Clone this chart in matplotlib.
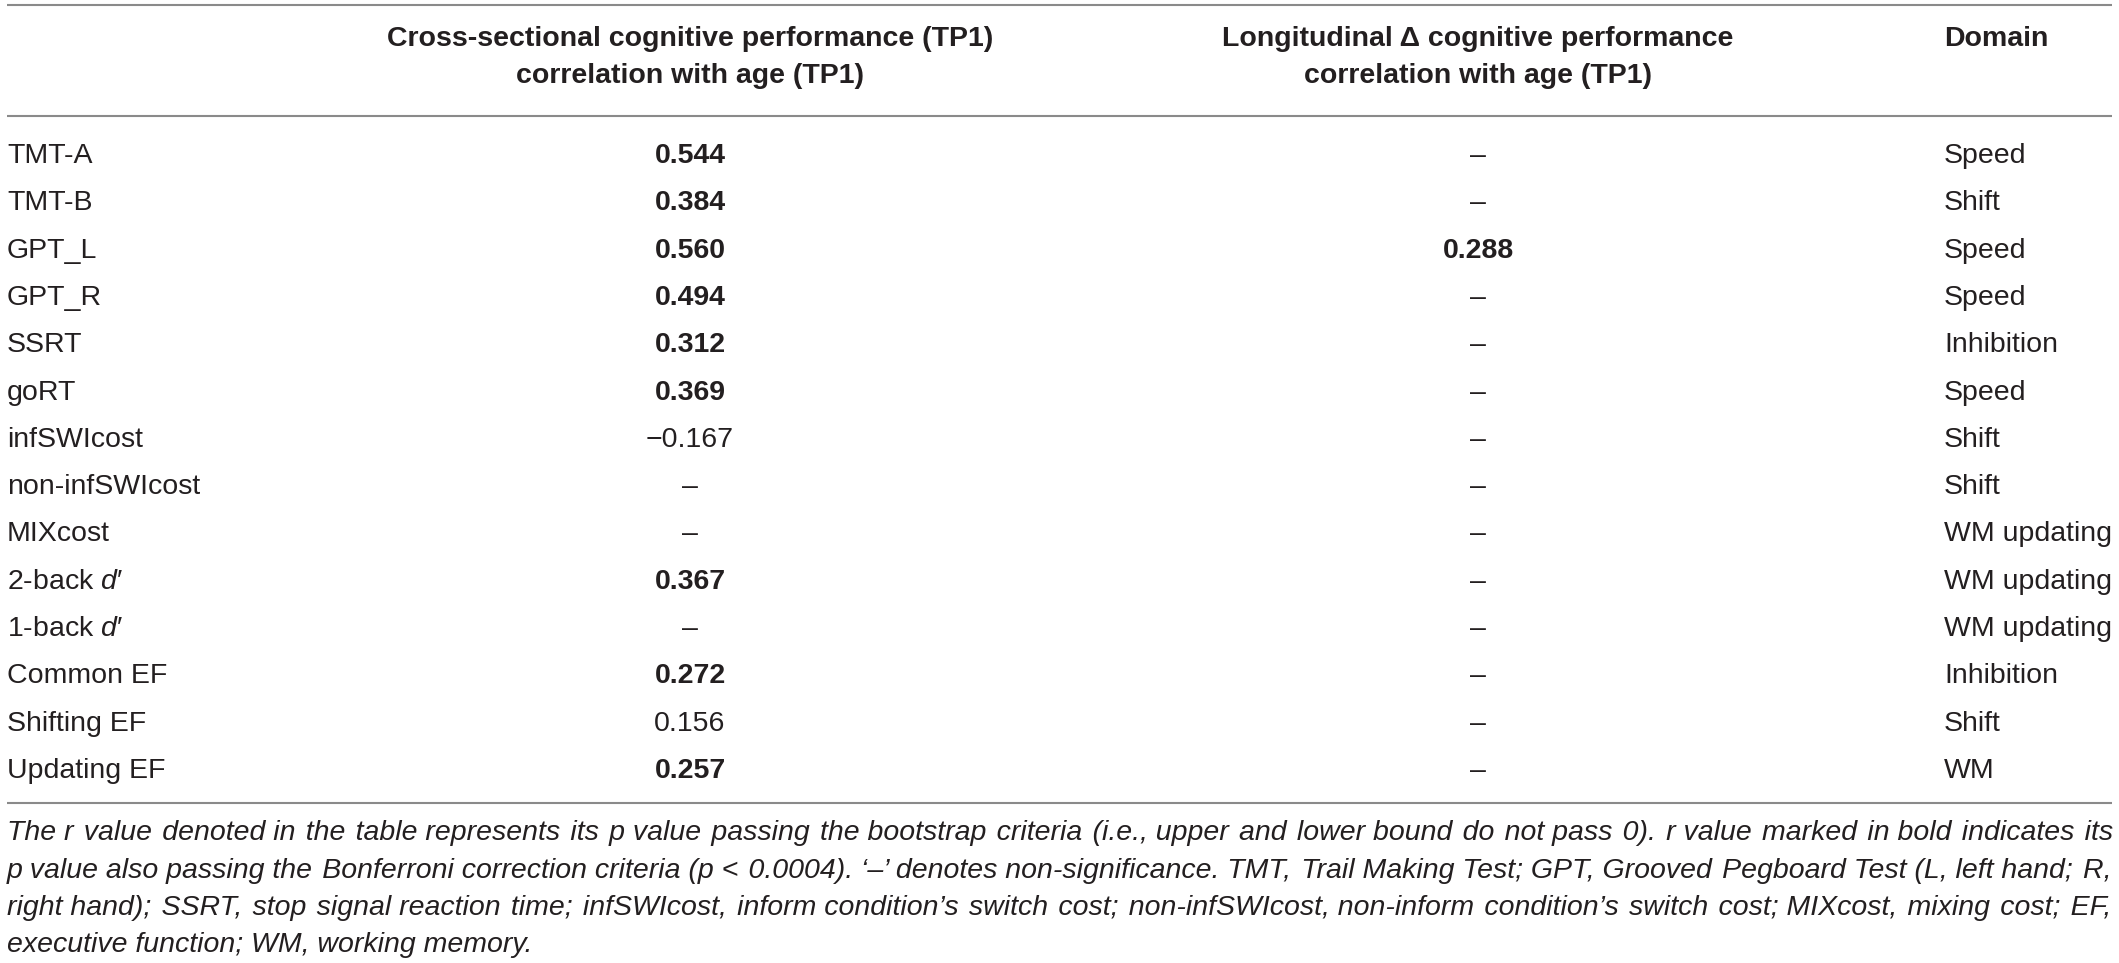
import matplotlib
matplotlib.use('Agg')
import matplotlib.pyplot as plt

plt.rcParams['font.family'] = ['Liberation Sans', 'DejaVu Sans']
plt.rcParams['mathtext.fontset'] = 'custom'
plt.rcParams['mathtext.rm'] = 'Liberation Sans'
plt.rcParams['mathtext.it'] = 'Liberation Sans:italic'
plt.rcParams['mathtext.bf'] = 'Liberation Sans:bold'

measures = ['TMT-A', 'TMT-B', 'GPT_L', 'GPT_R', 'SSRT', 'goRT', 'infSWIcost',
            'non-infSWIcost', 'MIXcost', '2-back $d$\u2032', '1-back $d$\u2032',
            'Common EF', 'Shifting EF', 'Updating EF']
cross_r = [0.544, 0.384, 0.560, 0.494, 0.312, 0.369, -0.167,
           None, None, 0.367, None, 0.272, 0.156, 0.257]
cross_bold = [True, True, True, True, True, True, False,
              False, False, True, False, True, False, True]
long_r = [None, None, 0.288, None, None, None, None,
          None, None, None, None, None, None, None]
long_bold = [False, False, True, False, False, False, False,
             False, False, False, False, False, False, False]
domains = ['Speed', 'Shift', 'Speed', 'Speed', 'Inhibition', 'Speed', 'Shift',
           'Shift', 'WM updating', 'WM updating', 'WM updating',
           'Inhibition', 'Shift', 'WM']

header_cross = ['Cross-sectional cognitive performance (TP1)', 'correlation with age (TP1)']
header_long = ['Longitudinal \u0394 cognitive performance', 'correlation with age (TP1)']
header_domain = 'Domain'

footnote = [
    "The r value denoted in the table represents its p value passing the bootstrap criteria "
    "(i.e., upper and lower bound do not pass 0). r value marked in bold indicates its",
    "p value also passing the Bonferroni correction criteria (p < 0.0004). \u2018\u2013\u2019 denotes "
    "non-significance. TMT, Trail Making Test; GPT, Grooved Pegboard Test (L, left hand; R,",
    "right hand); SSRT, stop signal reaction time; infSWIcost, inform condition\u2019s switch cost; "
    "non-infSWIcost, non-inform condition\u2019s switch cost; MIXcost, mixing cost; EF,",
    "executive function; WM, working memory.",
]


def fmt(v):
    if v is None:
        return '\u2013'
    return f"{v:.3f}".replace('-', '\u2212')


W, H = 2119, 963
fig = plt.figure(figsize=(W / 100, H / 100), dpi=100)
ax = fig.add_axes([0, 0, 1, 1])
ax.set_xlim(0, W)
ax.set_ylim(H, 0)
ax.axis('off')

txt = '#231f20'
rule = '#8a8a8a'
fs = 20.5

x_label, x_cross, x_long, x_dom = 7, 690, 1478, 1944
x_right = 2112

# rules
for yy in (5.5, 116.5, 803):
    ax.plot([x_label, x_right], [yy, yy], color=rule, lw=1.5, solid_capstyle='butt')

# header
for k, yy in enumerate((46, 83)):
    ax.text(x_cross, yy, header_cross[k], ha='center', va='baseline',
            fontsize=fs, fontweight='bold', color=txt)
    ax.text(x_long, yy, header_long[k], ha='center', va='baseline',
            fontsize=fs, fontweight='bold', color=txt)
ax.text(x_dom, 46, header_domain, ha='left', va='baseline',
        fontsize=fs, fontweight='bold', color=txt)

# body rows
y0, dy = 163, 47.3
for i, name in enumerate(measures):
    yy = y0 + i * dy
    ax.text(x_label, yy, name, ha='left', va='baseline', fontsize=fs, color=txt)
    ax.text(x_cross, yy, fmt(cross_r[i]), ha='center', va='baseline', fontsize=fs,
            fontweight='bold' if cross_bold[i] else 'normal', color=txt)
    ax.text(x_long, yy, fmt(long_r[i]), ha='center', va='baseline', fontsize=fs,
            fontweight='bold' if long_bold[i] else 'normal', color=txt)
    ax.text(x_dom, yy, domains[i], ha='left', va='baseline', fontsize=fs, color=txt)

# footnote: one text per line, justified by padding the gaps with hair spaces
renderer = fig.canvas.get_renderer()
HAIR = '\u200a'


def line_width(s):
    t = ax.text(0, 0, s, fontsize=fs, style='italic')
    w = t.get_window_extent(renderer).width
    t.remove()
    return w


hair_w = (line_width('a' + HAIR * 20 + 'a') - line_width('aa')) / 20
fy0, fdy = 840, 37.5
for j, line in enumerate(footnote):
    yy = fy0 + j * fdy
    words = line.split(' ')
    if j < len(footnote) - 1 and hair_w > 0:
        extra = x_right - x_label - line_width(line)
        n_gap = len(words) - 1
        total = max(0, int(round(extra / hair_w)))
        pieces = [words[0]]
        for g in range(n_gap):
            k = (total * (g + 1)) // n_gap - (total * g) // n_gap
            pieces.append(' ' + HAIR * k + words[g + 1])
        line = ''.join(pieces)
    ax.text(x_label, yy, line, ha='left', va='baseline', fontsize=fs,
            style='italic', color=txt)

fig.savefig('out.png', dpi=100)
